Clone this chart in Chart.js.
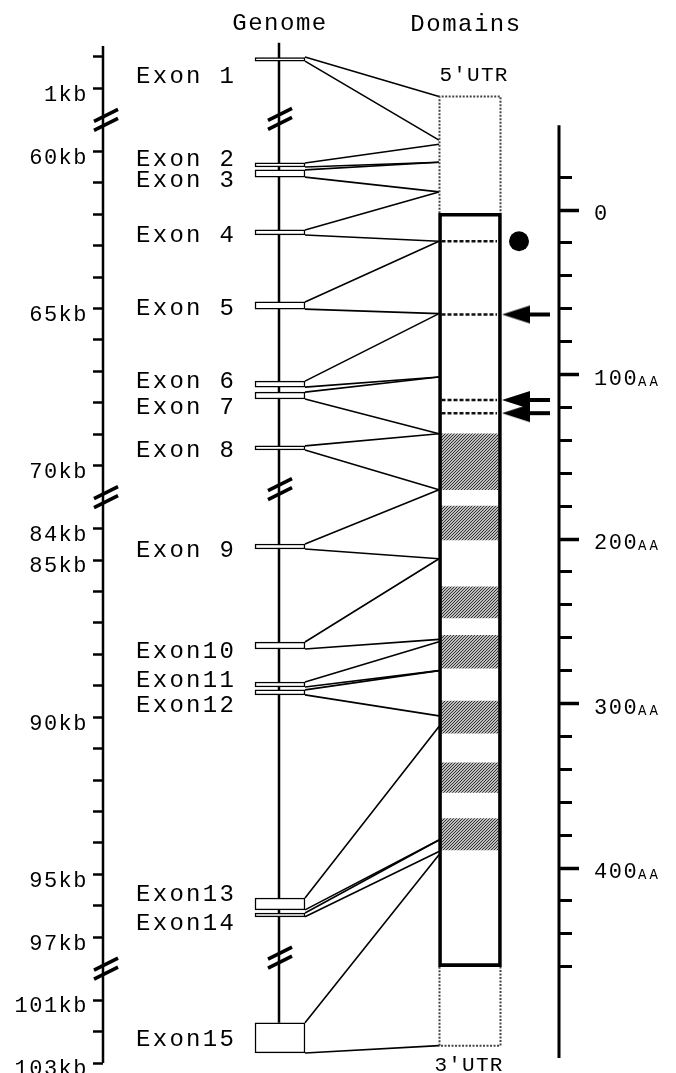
<!DOCTYPE html>
<html>
<head>
<meta charset="utf-8">
<script src="https://cdn.jsdelivr.net/npm/chart.js@4.4.1/dist/chart.umd.min.js"></script>
<style>
  html, body { margin: 0; padding: 0; background: #fff; }
  #wrap { position: relative; width: 676px; height: 1073px; }
</style>
</head>
<body>
<div id="wrap"><canvas id="exonChart"></canvas></div>
<script>
// ---- genome side (kb) ----
const exonNames = ['Exon 1', 'Exon 2', 'Exon 3', 'Exon 4', 'Exon 5', 'Exon 6', 'Exon 7', 'Exon 8',
  'Exon 9', 'Exon10', 'Exon11', 'Exon12', 'Exon13', 'Exon14', 'Exon15'];
const exonStartKb = [0, 60.37, 60.59, 62.5, 64.79, 67.31, 67.66, 69.37, 84.49, 87.61, 88.88, 89.13, 95.75, 96.23, 101.72];
const exonEndKb = [0.13, 60.5, 60.82, 62.66, 65.02, 67.5, 67.88, 69.5, 84.65, 87.83, 89.04, 89.29, 96.13, 96.35, 102.68];

// ---- protein side (AA, negative = 5'UTR) ----
const exonStartAA = [-69, -40, -29, -11, 19, 63, 101.5, 136, 170, 212, 262.5, 280, 314, 383, 392];
const exonEndAA = [-42.5, -29, -11, 19, 63, 101.5, 136, 170, 212, 261, 280, 307.5, 383, 390, 508];
const domainStartAA = [136, 180, 229, 258.5, 298.5, 336, 370];
const domainEndAA = [170, 200.5, 248, 278.5, 318, 354, 389];
const siteAA = [19, 63.5, 115.5, 123.5];
const siteKind = ['dot', 'arrow', 'arrow', 'arrow'];
const utr5AA = [-69, 2];
const cdsAA = [2, 460];
const utr3AA = [460, 508];

// ---- axes ----
const kbSegments = [[0, 1], [60, 70], [84, 97], [101, 103]];
const kbTicks = [0, 1, 60, 61, 62, 63, 64, 65, 66, 67, 68, 69, 70, 84, 85, 86, 87, 88, 89, 90,
  91, 92, 93, 94, 95, 96, 97, 101, 102, 103];
const kbLabeled = [1, 60, 65, 70, 84, 85, 90, 95, 97, 101, 103];
const aaMinorTicks = [-20, 0, 20, 40, 60, 80, 100, 120, 140, 160, 180, 200, 220, 240, 260, 280,
  300, 320, 340, 360, 380, 400, 420, 440, 460];
const aaLabelTicks = [0, 100, 200, 300, 400];
const aaTickLabels = ['0', '100', '200', '300', '400'];
const aaTickUnit = ['', 'AA', 'AA', 'AA', 'AA'];

// ---- layout (page px along x, since x scale spans the chart area) ----
const X_LEFT = 103, X_RIGHT = 559;
const X_GENOME = 279, X_EXON = 280, EXON_W = 50, X_EXON_R = 305;
const X_BOX_L = 439, X_BOX = 470, BOX_W = 63, X_UTR_L = 439.5, X_UTR_R = 500.5;
const X_DOMAIN = 469, DOMAIN_W = 58, X_SITE_L = 441.5, X_SITE_R = 497;
const X_DOT = 519, X_ARROW = 526, X_LABEL = 136;
const labelNudge = [15.5, -7, 5.5, 2, 1, -4.5, 10, 1, 2.5, 4.5, -5, 12, -10.5, 7.5, 0];
const genomeBreakNudge = [-1, -8, -11];
const FONT = '"Liberation Mono", monospace';
const SEG_GAP = 2;

function kbToPos(kb) {
  let offset = 0;
  for (const [a, b] of kbSegments) {
    if (kb <= b) return offset + (kb - a);
    offset += (b - a) + SEG_GAP;
  }
  return offset;
}
const breakPos = kbSegments.slice(0, -1).map(([a, b]) => kbToPos(b) + SEG_GAP / 2);

// hatch for the repeat domains
const tile = document.createElement('canvas');
tile.width = 3; tile.height = 3;
const tctx = tile.getContext('2d');
tctx.fillStyle = '#bdbdbd';
tctx.fillRect(0, 0, 3, 3);
tctx.fillStyle = '#333';
for (let i = 0; i < 3; i++) tctx.fillRect(i, 2 - i, 1, 1);
const hatch = tctx.createPattern(tile, 'repeat');

// arrow marker
const arrowImg = document.createElement('canvas');
arrowImg.width = 48; arrowImg.height = 20;
const actx = arrowImg.getContext('2d');
actx.fillStyle = '#000';
actx.beginPath();
actx.moveTo(0, 10); actx.lineTo(28, 1); actx.lineTo(28, 19); actx.closePath();
actx.fill();
actx.fillRect(27, 8, 21, 4);

const lineDs = (points, axis, extra) => Object.assign({
  type: 'line', data: points, yAxisID: axis, borderColor: '#000', borderWidth: 2.5,
  pointRadius: 0, fill: false, tension: 0, clip: false, order: 10
}, extra);

const datasets = [
  lineDs([{ x: X_LEFT, y: -0.35 }, { x: X_LEFT, y: kbToPos(103) }], 'y'),
  lineDs([{ x: X_GENOME, y: -0.45 }, { x: X_GENOME, y: kbToPos(exonStartKb[14]) }], 'y'),
  lineDs([{ x: X_RIGHT, y: -51.5 }, { x: X_RIGHT, y: 515.5 }], 'y2', { borderWidth: 3 }),
  {
    type: 'bar', yAxisID: 'y',
    data: exonStartKb.map((s, i) => ({ x: X_EXON, y: [kbToPos(s), kbToPos(exonEndKb[i])] })),
    backgroundColor: '#fff', borderColor: '#000', borderWidth: 1.5, borderSkipped: false,
    barThickness: EXON_W, grouped: false, clip: false, order: 5
  },
  {
    type: 'bar', yAxisID: 'y2',
    data: domainStartAA.map((s, i) => ({ x: X_DOMAIN, y: [s, domainEndAA[i]] })),
    backgroundColor: hatch, borderWidth: 0, barThickness: DOMAIN_W, grouped: false,
    clip: false, order: 6
  },
  {
    type: 'bar', yAxisID: 'y2',
    data: [{ x: X_BOX, y: cdsAA }],
    backgroundColor: 'rgba(0,0,0,0)', borderColor: '#000', borderWidth: 3, borderSkipped: false,
    barThickness: BOX_W, grouped: false, clip: false, order: 4
  },
  lineDs([{ x: X_UTR_L, y: utr5AA[1] }, { x: X_UTR_L, y: utr5AA[0] }, { x: X_UTR_R, y: utr5AA[0] },
    { x: X_UTR_R, y: utr5AA[1] }], 'y2', { borderWidth: 2, borderColor: '#444', borderDash: [2, 1.5], order: 4 }),
  lineDs([{ x: X_UTR_L, y: utr3AA[0] }, { x: X_UTR_L, y: utr3AA[1] }, { x: X_UTR_R, y: utr3AA[1] },
    { x: X_UTR_R, y: utr3AA[0] }], 'y2', { borderWidth: 2, borderColor: '#444', borderDash: [2, 1.5], order: 4 }),
  ...siteAA.map(aa => lineDs([{ x: X_SITE_L, y: aa }, { x: X_SITE_R, y: aa }], 'y2',
    { borderDash: [4, 2], borderColor: '#111', order: 3 })),
  {
    type: 'line', yAxisID: 'y2', showLine: false,
    data: siteAA.map((aa, i) => ({ x: siteKind[i] === 'dot' ? X_DOT : X_ARROW, y: aa })),
    pointStyle: siteKind.map(k => k === 'dot' ? 'circle' : arrowImg),
    pointRadius: 10, pointBackgroundColor: '#000', pointBorderWidth: 0, clip: false, order: 1
  }
];

const annotations = {
  id: 'annotations',
  beforeDraw(chart) {
    chart.ctx.letterSpacing = '1.5px';
  },
  beforeDatasetsDraw(chart) {
    const { ctx, scales: { x, y, y2 } } = chart;
    ctx.save();
    ctx.strokeStyle = '#000';
    ctx.lineWidth = 1.6;
    const x0 = x.getPixelForValue(X_EXON_R), x1 = x.getPixelForValue(X_BOX_L);
    exonStartKb.forEach((s, i) => {
      ctx.beginPath();
      ctx.moveTo(x0, y.getPixelForValue(kbToPos(s)));
      ctx.lineTo(x1, y2.getPixelForValue(exonStartAA[i]));
      ctx.moveTo(x0, y.getPixelForValue(kbToPos(exonEndKb[i])));
      ctx.lineTo(x1, y2.getPixelForValue(exonEndAA[i]));
      ctx.stroke();
    });
    ctx.restore();
  },
  afterDatasetsDraw(chart) {
    const { ctx, scales: { x, y, y2, y3 } } = chart;
    ctx.save();
    ctx.fillStyle = '#000';
    ctx.textBaseline = 'alphabetic';

    ctx.font = '24px ' + FONT;
    ctx.letterSpacing = '1.5px';
    ctx.textAlign = 'center';
    ctx.fillText('Genome', x.getPixelForValue(X_GENOME) + 1, 30);
    ctx.fillText('Domains', 466, 31);

    ctx.textAlign = 'left';
    ctx.letterSpacing = '2.3px';
    exonNames.forEach((name, i) => {
      const mid = (y.getPixelForValue(kbToPos(exonStartKb[i])) + y.getPixelForValue(kbToPos(exonEndKb[i]))) / 2;
      ctx.fillText(name, x.getPixelForValue(X_LABEL), mid + labelNudge[i] + 8);
    });

    ctx.font = '21px ' + FONT;
    ctx.letterSpacing = '1.2px';
    ctx.textAlign = 'center';
    ctx.fillText("5'UTR", 474, y2.getPixelForValue(utr5AA[0]) - 15);
    ctx.fillText("3'UTR", 469, y2.getPixelForValue(utr3AA[1]) + 25);

    // small caps unit after the AA tick numbers
    ctx.textAlign = 'left';
    aaLabelTicks.forEach((v, i) => {
      if (!aaTickUnit[i]) return;
      ctx.font = '22px ' + FONT;
      ctx.letterSpacing = '1.5px';
      const w = ctx.measureText(aaTickLabels[i]).width;
      ctx.font = '14px ' + FONT;
      ctx.letterSpacing = '3px';
      ctx.fillText(aaTickUnit[i], y3.left + 20 + 15 + w, y3.getPixelForValue(v) + 11);
    });

    // axis break marks
    ctx.strokeStyle = '#000';
    ctx.lineWidth = 3.5;
    const drawBreak = (cx, cy) => {
      ctx.beginPath();
      [-4.5, 4.5].forEach(d => {
        ctx.moveTo(cx - 12, cy + d + 6);
        ctx.lineTo(cx + 12, cy + d - 6);
      });
      ctx.stroke();
    };
    breakPos.forEach((p, i) => {
      drawBreak(x.getPixelForValue(X_LEFT) + 3, y.getPixelForValue(p));
      drawBreak(x.getPixelForValue(X_GENOME) + 1, y.getPixelForValue(p) + genomeBreakNudge[i]);
    });
    ctx.restore();
  }
};

const noPad = (width) => (s) => {
  s.width = width;
  s.paddingTop = 0; s.paddingBottom = 0; s.paddingLeft = 0; s.paddingRight = 0;
};

new Chart(document.getElementById('exonChart'), {
  type: 'bar',
  data: { datasets },
  options: {
    responsive: true,
    maintainAspectRatio: false,
    animation: false,
    events: [],
    layout: { padding: 0, autoPadding: false },
    plugins: { legend: { display: false }, tooltip: { enabled: false }, title: { display: false } },
    scales: {
      x: { type: 'linear', min: X_LEFT, max: X_RIGHT, display: false, offset: false },
      y: {
        type: 'linear', position: 'left', reverse: true, min: -1.8131, max: 32.318,
        afterFit: noPad(X_LEFT),
        afterBuildTicks: (s) => { s.ticks = kbTicks.map(kb => ({ value: kbToPos(kb) })); },
        border: { display: false },
        grid: { drawOnChartArea: false, drawTicks: true, tickLength: 10, tickWidth: 2.5, tickColor: '#000' },
        ticks: {
          autoSkip: false, padding: 5, labelOffset: 6.5, color: '#000',
          font: { family: FONT, size: 22 },
          callback: (v, i) => kbLabeled.includes(kbTicks[i]) ? kbTicks[i] + 'kb' : ''
        }
      },
      y2: {
        type: 'linear', position: 'right', weight: 0, reverse: true, min: -127.66, max: 524.62,
        afterFit: noPad(0),
        afterBuildTicks: (s) => { s.ticks = aaMinorTicks.map(v => ({ value: v })); },
        border: { display: false },
        grid: { drawOnChartArea: false, drawTicks: true, tickLength: 13, tickWidth: 3, tickColor: '#000' },
        ticks: { display: false, autoSkip: false }
      },
      y3: {
        type: 'linear', position: 'right', weight: 1, reverse: true, min: -127.66, max: 524.62,
        afterFit: noPad(676 - X_RIGHT),
        afterBuildTicks: (s) => { s.ticks = aaLabelTicks.map(v => ({ value: v })); },
        border: { display: false },
        grid: { drawOnChartArea: false, drawTicks: true, tickLength: 20, tickWidth: 3.5, tickColor: '#000' },
        ticks: {
          autoSkip: false, padding: 15, labelOffset: 4.5, color: '#000',
          font: { family: FONT, size: 22 },
          callback: (v, i) => aaTickLabels[i]
        }
      }
    }
  },
  plugins: [annotations]
});
</script>
</body>
</html>
